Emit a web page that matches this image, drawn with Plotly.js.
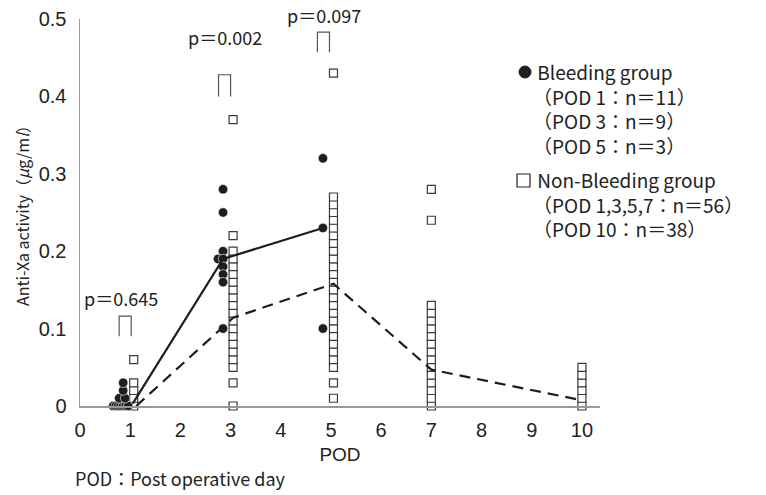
<!DOCTYPE html>
<html>
<head>
<meta charset="utf-8">
<script src="https://cdn.plot.ly/plotly-3.0.1.min.js"></script>
<style>html,body{margin:0;padding:0;background:#fff;}#chart{width:766px;height:495px;}</style>
</head>
<body>
<div id="chart"></div>
<script>
// Bleeding group (filled circles): x = POD (with horizontal jitter), y = anti-Xa activity
const bleedX = [0.66, 0.71, 0.76, 0.81, 0.86, 0.91, 0.96, 0.78, 0.90, 0.86, 0.86,
                2.85, 2.85, 2.85, 2.75, 2.85, 2.85, 2.85, 2.85, 2.85,
                4.84, 4.84, 4.84];
const bleedY = [0, 0, 0, 0, 0, 0, 0, 0.01, 0.01, 0.02, 0.03,
                0.28, 0.25, 0.20, 0.19, 0.19, 0.18, 0.17, 0.16, 0.10,
                0.32, 0.23, 0.10];

// Non-bleeding group (open squares)
const nonX = [1.07, 1.07, 1.07, 1.07, 1.07,
              3.05, 3.05, 3.05, 3.05, 3.05, 3.05, 3.05, 3.05, 3.05, 3.05, 3.05, 3.05, 3.05, 3.05, 3.05, 3.05, 3.05, 3.05, 3.05, 3.05,
              5.05, 5.05, 5.05, 5.05, 5.05, 5.05, 5.05, 5.05, 5.05, 5.05, 5.05, 5.05, 5.05, 5.05, 5.05, 5.05, 5.05, 5.05, 5.05, 5.05, 5.05, 5.05, 5.05, 5.05, 5.05, 5.05,
              7.0, 7.0, 7.0, 7.0, 7.0, 7.0, 7.0, 7.0, 7.0, 7.0, 7.0, 7.0, 7.0, 7.0, 7.0, 7.0,
              10.0, 10.0, 10.0, 10.0, 10.0, 10.0];
const nonY = [0, 0.01, 0.02, 0.03, 0.06,
              0, 0.03, 0.05, 0.06, 0.07, 0.08, 0.09, 0.10, 0.11, 0.12, 0.13, 0.14, 0.15, 0.16, 0.17, 0.18, 0.19, 0.20, 0.22, 0.37,
              0.01, 0.03, 0.05, 0.06, 0.07, 0.08, 0.09, 0.10, 0.11, 0.12, 0.13, 0.14, 0.15, 0.16, 0.17, 0.18, 0.19, 0.20, 0.21, 0.22, 0.23, 0.24, 0.25, 0.26, 0.27, 0.43,
              0, 0.01, 0.02, 0.03, 0.04, 0.05, 0.06, 0.07, 0.08, 0.09, 0.10, 0.11, 0.12, 0.13, 0.24, 0.28,
              0, 0.01, 0.02, 0.03, 0.04, 0.05];

// Central-tendency lines
const bleedLineX = [1.05, 2.85, 4.84];
const bleedLineY = [0.003, 0.19, 0.23];
const nonLineX = [1.12, 3.05, 5.05, 7.0, 9.95];
const nonLineY = [0.0, 0.114, 0.158, 0.047, 0.008];

// p-values between groups
const pLabels = ['p＝0.645', 'p＝0.002', 'p＝0.097'];
const pX = [0.9, 2.88, 4.85];
const pBracketTop = [0.116, 0.428, 0.483];
const pBracketBottom = [0.090, 0.400, 0.457];

const xTicks = [0, 1, 2, 3, 4, 5, 6, 7, 8, 9, 10];
const yTicks = [0, 0.1, 0.2, 0.3, 0.4, 0.5];
const yTickText = ['0', '0.1', '0.2', '0.3', '0.4', '0.5'];

const legendBleeding = ['Bleeding group', '（POD 1：n＝11）', '（POD 3：n＝9）', '（POD 5：n＝3）'];
const legendNonBleeding = ['Non-Bleeding group', '（POD 1,3,5,7：n＝56）', '（POD 10：n＝38）'];

const W = 766, H = 495;
const L = 80, R = 600, T = 19, B = 406;
const px = v => (v - L) / (R - L);
const py = v => (B - v) / (B - T);
const jpFont = '"Noto Sans CJK JP", "Liberation Sans", sans-serif';
const latin = '"Liberation Sans", Arial, sans-serif';

const traces = [
  {x: nonX, y: nonY, type: 'scatter', mode: 'markers', cliponaxis: false, showlegend: false,
   marker: {symbol: 'square', size: 8, color: '#ffffff', line: {color: '#3a3a3a', width: 1.2}}},
  {x: bleedX, y: bleedY, type: 'scatter', mode: 'markers', cliponaxis: false, showlegend: false,
   marker: {symbol: 'circle', size: 9.5, color: '#1e1e1e', line: {color: '#ffffff', width: 0.6}}},
  {x: nonLineX, y: nonLineY, type: 'scatter', mode: 'lines', cliponaxis: false, showlegend: false,
   line: {color: '#1e1e1e', width: 2.2, dash: '11px,7px'}},
  {x: bleedLineX, y: bleedLineY, type: 'scatter', mode: 'lines', cliponaxis: false, showlegend: false,
   line: {color: '#1e1e1e', width: 2.2}}
];

const shapes = [];
const annotations = [];
const pTextPix = [[121, 298], [225, 37], [324, 15]];
pLabels.forEach((t, i) => {
  const hw = 0.12;
  shapes.push({type: 'path', xref: 'x', yref: 'y',
    path: 'M ' + (pX[i] - hw) + ',' + pBracketBottom[i] + ' L ' + (pX[i] - hw) + ',' + pBracketTop[i] +
          ' L ' + (pX[i] + hw) + ',' + pBracketTop[i] + ' L ' + (pX[i] + hw) + ',' + pBracketBottom[i],
    line: {color: '#555', width: 1.2}});
  annotations.push({x: px(pTextPix[i][0]), y: py(pTextPix[i][1]), xref: 'paper', yref: 'paper', text: t, showarrow: false,
    font: {family: jpFont, size: 18, color: '#222'}, xanchor: 'center', yanchor: 'middle'});
});

// legend (drawn as markers + text in paper space)
shapes.push({type: 'circle', xref: 'paper', yref: 'paper',
  x0: px(519), x1: px(531), y0: py(78), y1: py(66), fillcolor: '#1e1e1e', line: {color: '#1e1e1e', width: 1}});
shapes.push({type: 'rect', xref: 'paper', yref: 'paper',
  x0: px(517), x1: px(530), y0: py(187), y1: py(174), fillcolor: '#ffffff', line: {color: '#222', width: 1.2}});
const legendBlock = (lines, cy) => ({
  x: px(531), y: py(cy), xref: 'paper', yref: 'paper', align: 'left',
  text: lines.map((s, i) => i === 0 ? '&nbsp;' + s : s).join('<br>'),
  showarrow: false, xanchor: 'left', yanchor: 'middle', font: {family: jpFont, size: 19, color: '#222'}});
annotations.push(legendBlock(legendBleeding, 108));
annotations.push(legendBlock(legendNonBleeding, 204));

annotations.push({x: px(73), y: py(478), xref: 'paper', yref: 'paper', text: 'POD：Post operative day',
  showarrow: false, xanchor: 'left', yanchor: 'middle', font: {family: jpFont, size: 18, color: '#222'}});
annotations.push({x: px(22), y: py(212), xref: 'paper', yref: 'paper', text: 'Anti-Xa activity（<i>μ</i>g/m<i>l</i>）',
  textangle: -90, showarrow: false, xanchor: 'center', yanchor: 'middle', font: {family: jpFont, size: 16, color: '#222'}});

const layout = {
  width: W, height: H,
  margin: {l: L, r: W - R, t: T, b: H - B},
  paper_bgcolor: '#ffffff', plot_bgcolor: '#ffffff',
  showlegend: false,
  xaxis: {range: [0, 10.36], tickvals: xTicks, ticktext: xTicks.map(String), showgrid: false, zeroline: false,
    showline: true, linecolor: '#999', linewidth: 1.5, ticks: '', ticklabelstandoff: 5,
    tickfont: {family: latin, size: 20, color: '#222'},
    title: {text: 'POD', font: {family: latin, size: 19, color: '#222'}, standoff: 8}},
  yaxis: {range: [0, 0.5], tickvals: yTicks, ticktext: yTickText, showgrid: false, zeroline: false,
    showline: true, linecolor: '#999', linewidth: 1.5, ticks: '', ticklabelstandoff: 8,
    tickfont: {family: latin, size: 20, color: '#222'}},
  shapes: shapes,
  annotations: annotations
};

Plotly.newPlot('chart', traces, layout, {displayModeBar: false, staticPlot: true});
</script>
</body>
</html>
